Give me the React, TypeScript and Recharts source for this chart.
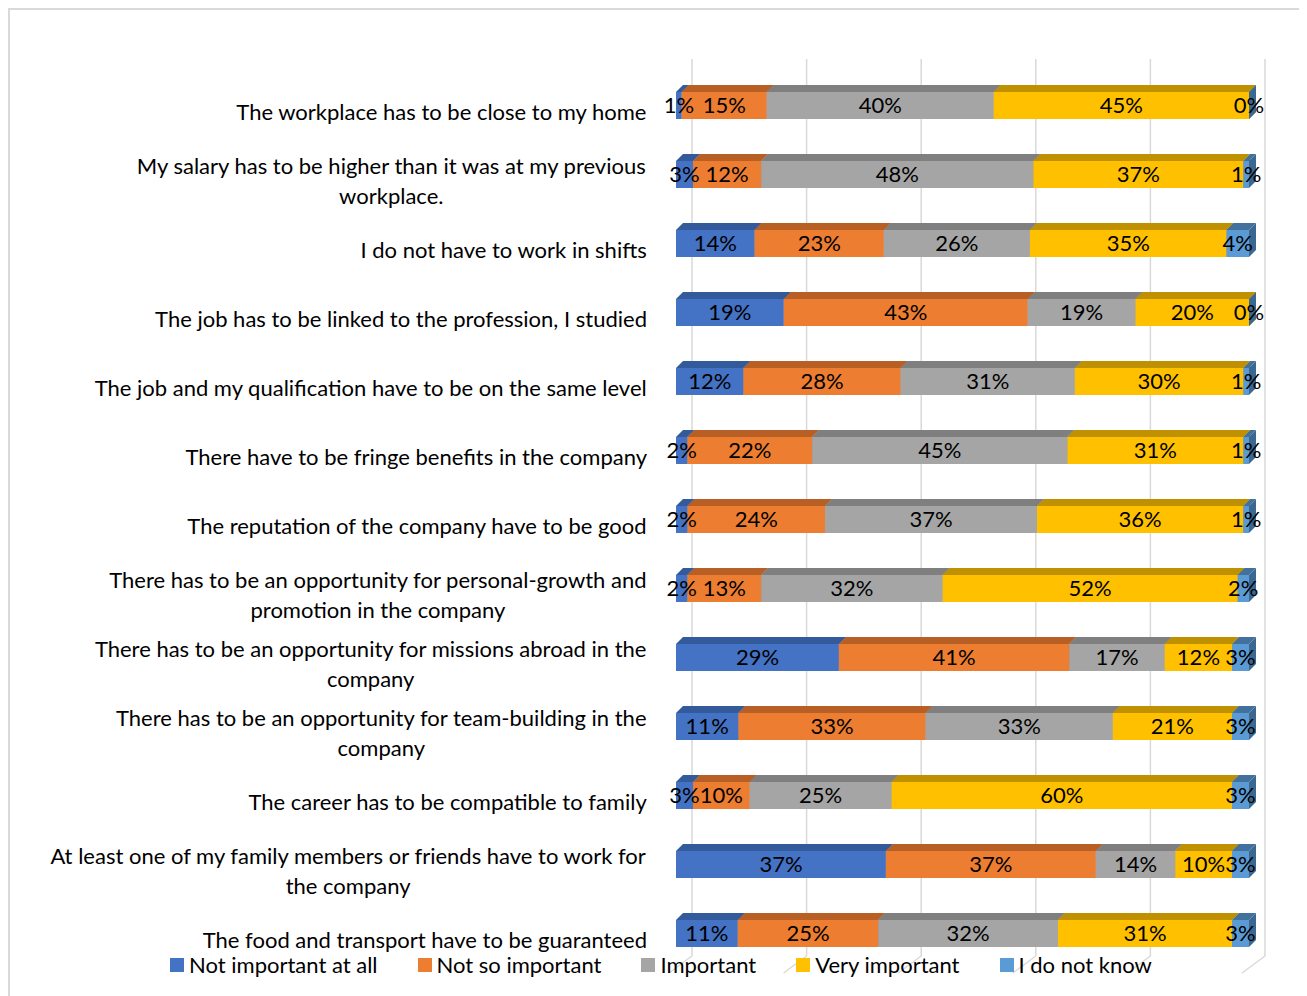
import React from 'react';
import {
  ComposedChart,
  Bar,
  XAxis,
  YAxis,
  CartesianGrid,
  Legend,
  LabelList,
} from 'recharts';

const categories = [
  'The workplace has to be close to my home',
  'My salary has to be higher than it was at my previous workplace.',
  'I do not have to work in shifts',
  'The job has to be linked to the profession, I studied',
  'The job and my qualification have to be on the same level',
  'There have to be fringe benefits in the company',
  'The reputation of the company have to be good',
  'There has to be an opportunity for personal-growth and promotion in the company',
  'There has to be an opportunity for missions abroad in the company',
  'There has to be an opportunity for team-building in the company',
  'The career has to be compatible to family',
  'At least one of my family members or friends have to work for the company',
  'The food and transport have to be guaranteed',
];

const notImportantAtAll = [1, 3, 14, 19, 12, 2, 2, 2, 29, 11, 3, 37, 11];
const notSoImportant = [15, 12, 23, 43, 28, 22, 24, 13, 41, 33, 10, 37, 25];
const important = [40, 48, 26, 19, 31, 45, 37, 32, 17, 33, 25, 14, 32];
const veryImportant = [45, 37, 35, 20, 30, 31, 36, 52, 12, 21, 60, 10, 31];
const doNotKnow = [0, 1, 4, 0, 1, 1, 1, 2, 3, 3, 3, 3, 3];

const gridTicks = [0, 0.2, 0.4, 0.6, 0.8, 1];

const FONT = 'Lato, "Noto Sans", sans-serif';
const FONT_SIZE = 22;

const series = [
  { key: 'notAtAll', name: 'Not important at all', values: notImportantAtAll, front: '#4472C4', top: '#335A9A', side: '#2E5088' },
  { key: 'notSo', name: 'Not so important', values: notSoImportant, front: '#ED7D31', top: '#B85F25', side: '#A65420' },
  { key: 'important', name: 'Important', values: important, front: '#A5A5A5', top: '#7F7F7F', side: '#737373' },
  { key: 'very', name: 'Very important', values: veryImportant, front: '#FFC000', top: '#BF9000', side: '#A67D00' },
  { key: 'dontKnow', name: 'I do not know', values: doNotKnow, front: '#5B9BD5', top: '#41719C', side: '#3A6890' },
];

const data = categories.map((category, i) => {
  const row: Record<string, string | number> = { category };
  series.forEach((s) => {
    row[s.key] = s.values[i];
  });
  return row;
});

// depth of the bar top face and of the back wall
const DEPTH = 7;
const WALL_DX = 16;
const WALL_DY = 12;
const FLOOR_DX = 23;
const FLOOR_DY = 17;

const make3DShape = (top: string, side: string) => (props: any) => {
  const { x, y, width, height, fill } = props;
  const w = Math.max(width || 0, 0);
  return (
    <g>
      <rect x={x} y={y} width={w} height={height} fill={fill} />
      <polygon
        points={`${x + w},${y} ${x + w + DEPTH},${y - DEPTH} ${x + w + DEPTH},${y + height - DEPTH} ${x + w},${y + height}`}
        fill={side}
      />
      <polygon
        points={`${x},${y} ${x + DEPTH},${y - DEPTH} ${x + w + DEPTH},${y - DEPTH} ${x + w},${y}`}
        fill={top}
      />
    </g>
  );
};

const WallLine = (props: any) => {
  const { x1, y1, y2 } = props;
  const bx = x1 + WALL_DX;
  return (
    <g key={props.key}>
      <line x1={bx} y1={y1 - WALL_DY} x2={bx} y2={y2 - WALL_DY} stroke="#d9d9d9" strokeWidth={1.5} />
      <line
        x1={bx}
        y1={y2 - WALL_DY}
        x2={bx - FLOOR_DX}
        y2={y2 - WALL_DY + FLOOR_DY}
        stroke="#d9d9d9"
        strokeWidth={1.5}
      />
    </g>
  );
};

let measureCtx: CanvasRenderingContext2D | null = null;
const textWidth = (s: string) => {
  if (!measureCtx) measureCtx = document.createElement('canvas').getContext('2d');
  if (!measureCtx) return s.length * 10;
  measureCtx.font = `${FONT_SIZE}px Lato`;
  return measureCtx.measureText(s).width;
};

const wrapText = (text: string, maxWidth: number) => {
  const lines: string[] = [];
  let line = '';
  text.split(' ').forEach((word) => {
    const next = line ? `${line} ${word}` : word;
    if (line && textWidth(next) > maxWidth) {
      lines.push(line);
      line = word;
    } else {
      line = next;
    }
  });
  if (line) lines.push(line);
  return lines;
};

const LINE_HEIGHT = 30;

// wrapped lines are centred on each other, the block is right-aligned to the axis
const CategoryTick = (props: any) => {
  const { x, y, payload } = props;
  const lines = wrapText(String(payload.value), 610);
  const blockWidth = Math.max(...lines.map(textWidth));
  const cx = x - blockWidth / 2;
  const startY = y + 5 - ((lines.length - 1) * LINE_HEIGHT) / 2;
  return (
    <text
      x={cx}
      y={startY}
      textAnchor="middle"
      dominantBaseline="central"
      style={{ fontFamily: FONT, fontSize: FONT_SIZE, fill: '#000' }}
    >
      {lines.map((l, i) => (
        <tspan key={i} x={cx} y={startY + i * LINE_HEIGHT}>
          {l}
        </tspan>
      ))}
    </text>
  );
};

const LegendContent = () => (
  <div style={{ display: 'flex', gap: 40, fontFamily: FONT, fontSize: FONT_SIZE, color: '#000' }}>
    {series.map((s) => (
      <div key={s.key} style={{ display: 'flex', alignItems: 'center' }}>
        <span style={{ display: 'inline-block', width: 14, height: 14, background: s.front, marginRight: 5 }} />
        {s.name}
      </div>
    ))}
  </div>
);

export default function App() {
  return (
    <div
      style={{
        width: 1292,
        height: 990,
        border: '2px solid #d9d9d9',
        background: '#fff',
        fontFamily: FONT,
        position: 'relative',
      }}
    >
      <ComposedChart
        width={1292}
        height={990}
        data={data}
        layout="vertical"
        stackOffset="expand"
        barSize={27}
        margin={{ top: 61, right: 53, bottom: 32, left: 0 }}
      >
        <CartesianGrid horizontal={false} vertical={WallLine} />
        <XAxis type="number" domain={[0, 1]} ticks={gridTicks} hide />
        <YAxis
          type="category"
          dataKey="category"
          width={666}
          axisLine={false}
          tickLine={false}
          tickSize={0}
          tickMargin={29}
          interval={0}
          tick={CategoryTick}
        />
        <Legend
          verticalAlign="middle"
          align="center"
          layout="horizontal"
          content={() => <LegendContent />}
          wrapperStyle={{ top: 941, left: 160, width: 1100 }}
        />
        {series.map((s) => (
          <Bar
            key={s.key}
            dataKey={s.key}
            name={s.name}
            stackId="a"
            fill={s.front}
            shape={make3DShape(s.top, s.side)}
            isAnimationActive={false}
          >
            <LabelList
              dataKey={s.key}
              position="center"
              formatter={(v: any) => `${v}%`}
              style={{ fontFamily: FONT, fontSize: FONT_SIZE, fill: '#000' }}
            />
          </Bar>
        ))}
      </ComposedChart>
    </div>
  );
}
